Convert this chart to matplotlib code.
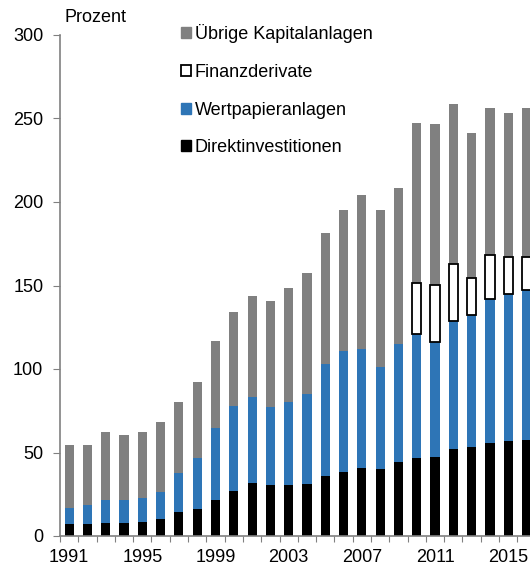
import numpy as np
import matplotlib
matplotlib.use("Agg")
import matplotlib.pyplot as plt
from matplotlib.patches import Patch

plt.rcParams['font.family'] = ['Liberation Sans', 'DejaVu Sans']

# === DATEN (Prozent) ===
jahre = list(range(1991, 2017))
direkt = [7, 7, 7.5, 8, 8.5, 10, 14.5, 16, 21.5, 27, 31.5, 30.5, 30.5, 31,
          36, 38.5, 41, 40, 44.5, 46.5, 47.5, 52, 53, 55.5, 57, 57.5]
wertpapier_oben = [17, 18.5, 21.5, 21.5, 23, 26.5, 37.5, 47, 64.5, 78, 83, 77, 80, 85,
                   103, 110.5, 112, 101, 115, 121, 116, 128.5, 132.5, 142, 145, 147.5]
derivate_oben = [None] * 19 + [151.5, 150, 163, 154.5, 168.5, 167, 167]
gesamt = [54.5, 54.5, 62.5, 60.5, 62, 68, 80.5, 92.5, 117, 134, 144, 141, 148.5, 157.5,
          181.5, 195, 204, 195.5, 208.5, 247.5, 247, 258.5, 241.5, 256.5, 253.5, 256]
etiketten = ['1991', '1995', '1999', '2003', '2007', '2011', '2015']

grau = '#808080'
blau = '#2E75B6'
fs = 13

x = np.arange(len(jahre))
direkt = np.array(direkt)
wp = np.array(wertpapier_oben) - direkt
oben = np.array([d if d is not None else w for d, w in zip(derivate_oben, wertpapier_oben)])
deriv = oben - np.array(wertpapier_oben)
rest = np.array(gesamt) - oben

fig = plt.figure(figsize=(5.30, 5.67), dpi=100)
ax = fig.add_axes([60/530, 1 - 536/567, 470/530, (536 - 35)/567])

b = 0.5
ax.bar(x, direkt, b, color='black', zorder=2)
ax.bar(x, wp, b, bottom=direkt, color=blau, zorder=2)
mask = deriv > 0
ax.bar(x[mask], deriv[mask], b, bottom=np.array(wertpapier_oben)[mask],
       color='white', edgecolor='black', linewidth=1.3, zorder=3)
ax.bar(x, rest, b, bottom=oben, color=grau, zorder=2)

ax.set_ylim(0, 300)
ax.set_xlim(-0.5, 25.19)
ax.set_yticks([0, 50, 100, 150, 200, 250, 300])
ax.tick_params(axis='y', direction='out', length=5, color=grau, labelsize=fs, pad=7)

ax.set_xticks(np.arange(-0.5, 25.5, 1))
ax.set_xticklabels([])
ax.tick_params(axis='x', which='major', direction='out', length=4, color=grau)
ax.set_xticks(np.arange(0, 26, 4), minor=True)
ax.set_xticklabels(etiketten, minor=True)
ax.tick_params(axis='x', which='minor', length=0, labelsize=fs, pad=9)

for s in ['top', 'right']:
    ax.spines[s].set_visible(False)
for s in ['left', 'bottom']:
    ax.spines[s].set_color(grau)
    ax.spines[s].set_linewidth(1.2)

fig.text(65/530, 1 - 18/567, 'Prozent', fontsize=fs, va='center', ha='left')

handles = [Patch(facecolor=grau, edgecolor=grau),
           Patch(facecolor='white', edgecolor='black', linewidth=1.3),
           Patch(facecolor=blau, edgecolor=blau),
           Patch(facecolor='black', edgecolor='black')]
labels = ['Übrige Kapitalanlagen', 'Finanzderivate', 'Wertpapieranlagen', 'Direktinvestitionen']
fig.legend(handles, labels, loc='upper left', bbox_to_anchor=(172/530, 1 - 15/567),
           frameon=False, fontsize=fs, handlelength=0.55, handleheight=0.55,
           handletextpad=0.2, labelspacing=1.15, borderpad=0)

fig.savefig('out.png', dpi=100)
